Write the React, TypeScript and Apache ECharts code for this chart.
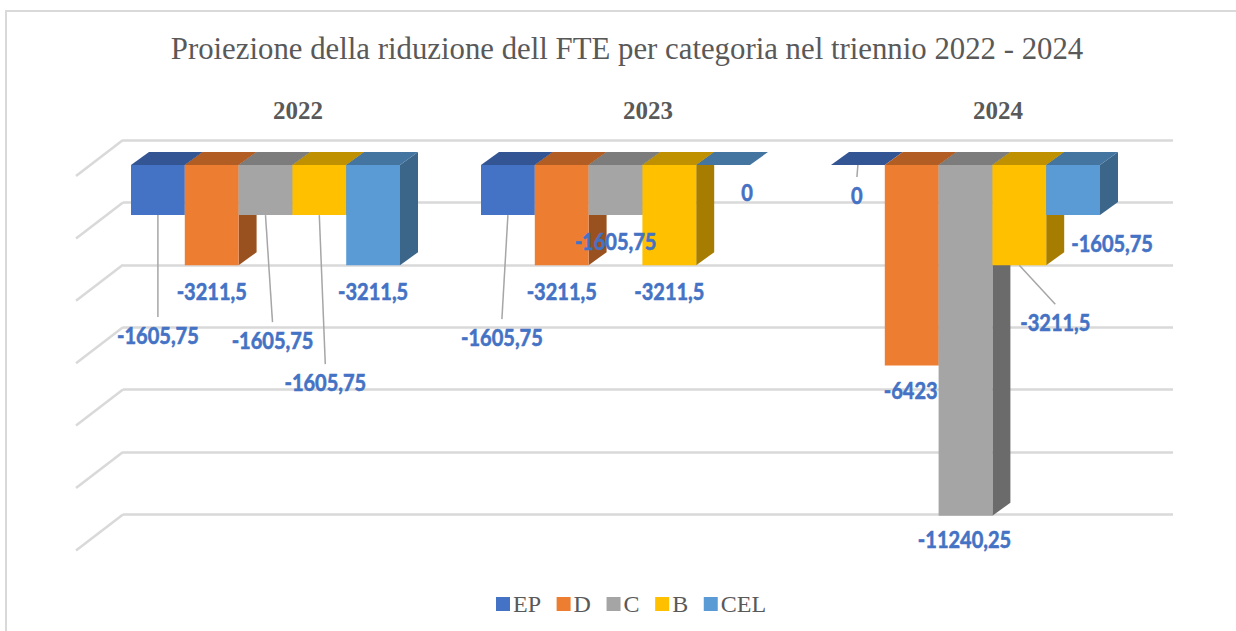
import React, { useEffect, useRef } from "react";
import * as echarts from "echarts";

const TITLE = "Proiezione della riduzione dell FTE per categoria nel triennio 2022 - 2024";
const CATEGORIES = ["2022", "2023", "2024"];
const EP = [-1605.75, -1605.75, 0];
const D = [-3211.5, -3211.5, -6423];
const C = [-1605.75, -1605.75, -11240.25];
const B = [-1605.75, -3211.5, -3211.5];
const CEL = [-3211.5, 0, -1605.75];
const TICKS = [0, -2000, -4000, -6000, -8000, -10000, -12000];

const BLUE = "#4472C4";
const SERIES = [
  { name: "EP", values: EP, front: "#4472C4", top: "#335593", side: "#2C4A80" },
  { name: "D", values: D, front: "#ED7D31", top: "#B15D24", side: "#9A5120" },
  { name: "C", values: C, front: "#A5A5A5", top: "#7C7C7C", side: "#6B6B6B" },
  { name: "B", values: B, front: "#FFC000", top: "#BF9000", side: "#A67D00" },
  { name: "CEL", values: CEL, front: "#5B9BD5", top: "#4474A0", side: "#3B6589" },
];

// Label placement relative to the bottom centre of each bar's front face: [dx, dy, hasLeader]
const LABEL_PLACEMENT: Record<string, [number, number, boolean][]> = {
  EP: [[0, 120, true], [-6, 122, true], [-1, 30, true]],
  D: [[0, 26, false], [0, 26, false], [-1, 25, false]],
  C: [[7, 125, true], [0, 26, false], [-1, 24, false]],
  B: [[6, 167, true], [0, 26, false], [36, 57, true]],
  CEL: [[0, 26, false], [24, 27, false], [39, 28, false]],
};

const BAR_WIDTH = 53.8;
const DEPTH_X = 18;
const DEPTH_Y = 13;
const FRONT_DY = 25;
const FRONT_DX = -32.5 - DEPTH_X;

const formatValue = (v: number) => String(v).replace(".", ",");

function barRenderer(seriesIndex: number) {
  const s = SERIES[seriesIndex];
  return (params: any, api: any) => {
    const i = api.value(0);
    const v = api.value(1);
    const zero = api.coord([i, 0]);
    const end = api.coord([i, v]);
    const groupLeft = zero[0] + FRONT_DX + DEPTH_X - (BAR_WIDTH * SERIES.length) / 2;
    const x0 = groupLeft + seriesIndex * BAR_WIDTH;
    const x1 = x0 + BAR_WIDTH;
    const yTop = zero[1] + FRONT_DY;
    const yBot = end[1] + FRONT_DY;
    const z2 = seriesIndex + 1;
    const children: any[] = [];
    if (yBot > yTop) {
      children.push({
        type: "polygon",
        z2,
        shape: { points: [[x1, yTop], [x1 + DEPTH_X, yTop - DEPTH_Y], [x1 + DEPTH_X, yBot - DEPTH_Y], [x1, yBot]] },
        style: { fill: s.side },
      });
      children.push({
        type: "rect",
        z2,
        shape: { x: x0, y: yTop, width: BAR_WIDTH, height: yBot - yTop },
        style: { fill: s.front },
      });
    }
    children.push({
      type: "polygon",
      z2,
      shape: { points: [[x0, yTop], [x0 + DEPTH_X, yTop - DEPTH_Y], [x1 + DEPTH_X, yTop - DEPTH_Y], [x1, yTop]] },
      style: { fill: s.top },
    });
    const [dx, dy, leader] = LABEL_PLACEMENT[s.name][i];
    const cx = (x0 + x1) / 2;
    const lx = cx + dx;
    const ly = yBot + dy;
    if (leader) {
      children.push({
        type: "line",
        z2: 50,
        shape: { x1: cx, y1: yBot, x2: lx, y2: ly - 18 },
        style: { stroke: "#A6A6A6", lineWidth: 1.5 },
      });
    }
    children.push({
      type: "text",
      z2: 100,
      x: lx,
      y: ly,
      scaleX: 0.87,
      style: {
        text: formatValue(v),
        x: 0,
        y: 0,
        fill: BLUE,
        stroke: BLUE,
        lineWidth: 0.6,
        font: "bold 23px Lato, sans-serif",
        textAlign: "center",
        textVerticalAlign: "middle",
      },
    });
    return { type: "group", children };
  };
}

function depthRenderer(params: any, api: any) {
  const p = api.coord([0, api.value(1)]);
  const left = params.coordSys.x;
  return {
    type: "line",
    shape: { x1: left, y1: p[1], x2: left - 47, y2: p[1] + 36 },
    style: { stroke: "#D9D9D9", lineWidth: 2.5 },
  };
}

export default function App() {
  const ref = useRef<HTMLDivElement>(null);
  useEffect(() => {
    if (!ref.current) return;
    const chart = echarts.init(ref.current, undefined, { renderer: "svg" });
    chart.setOption({
      animation: false,
      backgroundColor: "#FFFFFF",
      title: {
        text: TITLE,
        left: 622,
        top: 28,
        textAlign: "center",
        textStyle: { fontFamily: '"Liberation Serif", serif', fontSize: 30.8, fontWeight: "normal", color: "#595959" },
      },
      legend: {
        left: 491,
        top: 587,
        itemWidth: 14,
        itemHeight: 14,
        itemGap: 15.6,
        icon: "rect",
        data: SERIES.map((s) => s.name),
        selectedMode: false,
        textStyle: { fontFamily: '"Liberation Serif", serif', fontSize: 24, color: "#595959", padding: [0, 0, 0, -2] },
      },
      grid: { left: 123, top: 140, width: 1050, height: 374.4 },
      xAxis: {
        type: "category",
        position: "top",
        data: CATEGORIES,
        axisLine: { show: false },
        axisTick: { show: false },
        axisLabel: {
          margin: 17,
          fontFamily: '"Liberation Serif", serif',
          fontSize: 25,
          fontWeight: "bold",
          color: "#595959",
        },
      },
      yAxis: {
        type: "value",
        min: -12000,
        max: 0,
        interval: 2000,
        axisLine: { show: false },
        axisTick: { show: false },
        axisLabel: { show: false },
        splitLine: { show: true, lineStyle: { color: "#D9D9D9", width: 2.5 } },
      },
      graphic: [
        {
          type: "rect",
          z: -1,
          silent: true,
          shape: { x: 6, y: 11, width: 1240, height: 640 },
          style: { fill: "none", stroke: "#D9D9D9", lineWidth: 2 },
        },
      ],
      series: [
        {
          type: "custom",
          name: "depth",
          z: 1,
          silent: true,
          renderItem: depthRenderer,
          encode: { x: 0, y: 1 },
          data: TICKS.map((t) => [0, t]),
        },
        ...SERIES.map((s, idx) => ({
          type: "custom",
          name: s.name,
          z: 2,
          itemStyle: { color: s.front },
          renderItem: barRenderer(idx),
          encode: { x: 0, y: 1 },
          data: s.values.map((v, i) => [i, v]),
        })),
      ],
    });
    return () => chart.dispose();
  }, []);
  return (
    <div
      ref={ref}
      style={{ position: "absolute", left: 0, top: 0, width: 1236, height: 631, background: "#fff" }}
    />
  );
}
